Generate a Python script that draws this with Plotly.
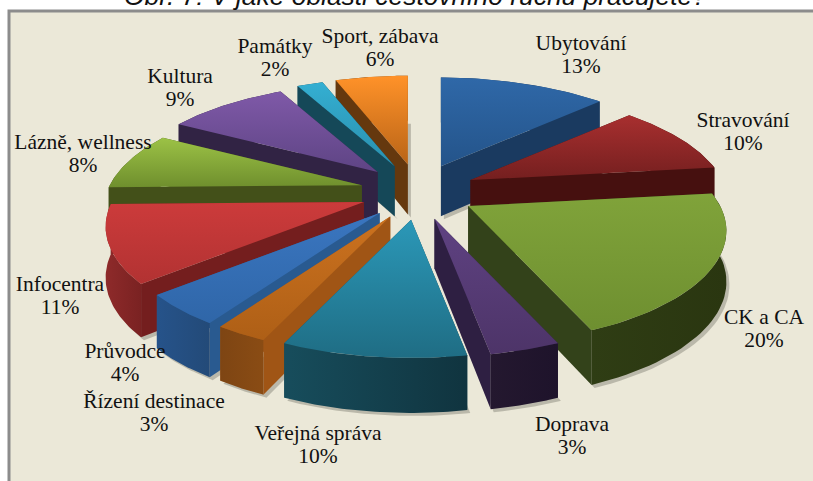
import numpy as np
import plotly.graph_objects as go

title = "Obr. 7: V jaké oblasti cestovního ruchu pracujete?"
categories = ["Ubytování", "Stravování", "CK a CA", "Doprava", "Veřejná správa", "Řízení destinace",
              "Průvodce", "Infocentra", "Lázně, wellness", "Kultura", "Památky", "Sport, zábava"]
percent_labels = ["13%", "10%", "20%", "3%", "10%", "3%", "4%", "11%", "8%", "9%", "2%", "6%"]
# slice shares (labels above are the printed, rounded ones)
shares = [12.9, 10.2, 20.5, 3.6, 9.4, 2.7, 4.4, 11.0, 8.4, 9.3, 2.0, 5.6]

top_colors = [("#2f68a8", "#24548a"), ("#a82f2f", "#741f1f"), ("#80a33a", "#6e8f30"), ("#5f4282", "#4d3468"),
              ("#2b98b8", "#1f6d84"), ("#cc721f", "#ae5f16"), ("#3a76c0", "#2f66a8"), ("#cc3b3b", "#b23232"),
              ("#9cc246", "#6f8f2d"), ("#7f59a8", "#5e4484"), ("#34afd2", "#2a8fad"), ("#ff9229", "#b96417")]
side_colors = ["#1a3a60", "#46100f", "#33421a", "#2e1f42", "#154957", "#a05515",
               "#295a90", "#741e1e", "#435019", "#312344", "#154858", "#65380e"]
rim_colors = [("#1a3a60", "#1a3a60"), ("#46100f", "#46100f"), ("#2f3d14", "#2a3610"), ("#24182f", "#1e132b"),
              ("#174d5c", "#10343f"), ("#7e4513", "#8a4c14"), ("#26538a", "#234a78"), ("#8e2a2a", "#7a2222"),
              ("#435019", "#435019"), ("#312344", "#312344"), ("#154858", "#154858"), ("#65380e", "#65380e")]

label_x = [581, 743, 764, 572, 318, 154, 125, 60, 83, 180, 275, 380]
label_y = [45, 122, 319, 426, 435, 403, 353, 286, 144, 78, 48, 38]
LINE_GAP = 23

CX, CY, PULL_X, PULL_Y = 418, 192, 58, 28
RX, RY, K = 252, 108, 0.218


def rim(a):
    u, v = np.sin(a), np.cos(a)
    d = 1 + K * v
    return RX * u / d, RY * v / d, 50 * (1 - 0.1 * v)


def poly(xs, ys, c0, c1, kind="vertical"):
    return go.Scatter(x=list(xs) + [xs[0]], y=list(ys) + [ys[0]], mode="lines", line=dict(width=0),
                      fill="toself", hoverinfo="skip", showlegend=False,
                      fillgradient=dict(type=kind, colorscale=[[0, c0], [1, c1]]))


fracs = np.array(shares) / sum(shares) * 2 * np.pi
edges = np.concatenate([[0], np.cumsum(fracs)])
mids = (edges[:-1] + edges[1:]) / 2
order = np.argsort(-np.cos(mids))

fig = go.Figure()
# shadows
for i in order:
    ax, ay = CX + PULL_X * np.sin(mids[i]), CY - PULL_Y * np.cos(mids[i])
    t = np.linspace(edges[i], edges[i + 1], 40)
    X, Y, H = rim(t)
    fig.add_trace(go.Scatter(x=np.r_[ax, ax + X, ax] + 3, y=np.r_[ay + 50, ay - Y + H, ay + 50] + 3, mode="lines",
                             line=dict(width=0), fill="toself", fillcolor="rgba(60,60,50,0.28)",
                             hoverinfo="skip", showlegend=False))
for i in order:
    ax, ay = CX + PULL_X * np.sin(mids[i]), CY - PULL_Y * np.cos(mids[i])
    t = np.linspace(edges[i], edges[i + 1], 40)
    X, Y, H = rim(t)
    px, py = ax + X, ay - Y
    # radial walls
    for e in (0, -1):
        fig.add_trace(poly([ax, px[e], px[e], ax], [ay, py[e], py[e] + H[e], ay + 50], side_colors[i], side_colors[i]))
    # outer wall
    fig.add_trace(poly(np.r_[px, px[::-1]], np.r_[py, (py + H)[::-1]], rim_colors[i][0], rim_colors[i][1], "horizontal"))
    # top
    fig.add_trace(poly(np.r_[ax, px], np.r_[ay, py], top_colors[i][1], top_colors[i][0]))

font = dict(family="Liberation Serif", size=21.5, color="#111111")
fig.add_trace(go.Scatter(x=label_x, y=label_y, text=categories, mode="text", textposition="middle center",
                         textfont=font, hoverinfo="skip", showlegend=False))
fig.add_trace(go.Scatter(x=label_x, y=[v + LINE_GAP for v in label_y], text=percent_labels, mode="text",
                         textposition="middle center", textfont=font, hoverinfo="skip", showlegend=False))

fig.update_layout(
    width=813, height=481, margin=dict(l=0, r=0, t=0, b=0), paper_bgcolor="white", plot_bgcolor="white",
    xaxis=dict(range=[0, 813], visible=False, fixedrange=True),
    yaxis=dict(range=[481, 0], visible=False, fixedrange=True),
    shapes=[dict(type="rect", xref="x", yref="y", x0=9, y0=11, x1=840, y1=510, fillcolor="#ebe8d8",
                 line=dict(color="#8c8c8c", width=3), layer="below")],
    annotations=[dict(text="<i>" + title + "</i>", x=0.5105, y=1.0, xref="paper", yref="paper", showarrow=False,
                      yanchor="middle", xanchor="center", yshift=4,
                      font=dict(family="Liberation Sans", size=26.4, color="#111111"))],
)
fig.write_html("out.html", config=dict(displayModeBar=False),
               post_script="document.body.style.margin='0';document.body.style.overflow='hidden';")
